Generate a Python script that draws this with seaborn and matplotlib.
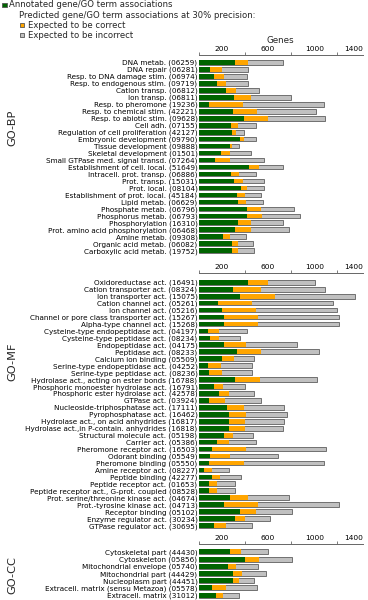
import matplotlib
matplotlib.use('Agg')
import matplotlib.pyplot as plt
import matplotlib.transforms as mtransforms
import seaborn as sns
import pandas as pd
from matplotlib.patches import Rectangle

# ---------------- data ----------------
bp_terms = ["DNA metab.", "DNA repair", "Resp. to DNA damage stim.", "Resp. to endogenous stim.",
            "Cation transp.", "Ion transp.", "Resp. to pheromone", "Resp. to chemical stim.",
            "Resp. to abiotic stim.", "Cell adh.", "Regulation of cell proliferation",
            "Embryonic development", "Tissue development", "Skeletal development",
            "Small GTPase med. signal transd.", "Establishment of cell. local.",
            "Intracell. prot. transp.", "Prot. transp.", "Prot. local.",
            "Establishment of prot. local.", "Lipid metab.", "Phosphate metab.",
            "Phosphorus metab.", "Phosphorylation", "Prot. amino acid phosphorylation",
            "Amine metab.", "Organic acid metab.", "Carboxylic acid metab."]
bp_ids = ["06259", "06281", "06974", "09719", "06812", "06811", "19236", "42221", "09628",
          "07155", "42127", "09790", "09888", "01501", "07264", "51649", "06886", "15031",
          "08104", "45184", "06629", "06796", "06793", "16310", "06468", "09308", "06082", "19752"]
bp_annot = [310, 100, 135, 158, 235, 307, 86, 292, 393, 281, 290, 358, 267, 195, 143, 436,
            281, 307, 367, 330, 341, 416, 416, 341, 312, 212, 287, 287]
bp_correct = [120, 100, 80, 77, 86, 143, 295, 215, 209, 57, 29, 37, 17, 77, 123, 83,
              63, 72, 54, 66, 66, 120, 135, 115, 138, 57, 49, 49]
bp_incorrect = [295, 229, 200, 195, 204, 344, 702, 510, 493, 155, 69, 97, 60, 178, 301, 206,
                149, 189, 146, 146, 152, 290, 324, 270, 333, 138, 129, 138]

mf_terms = ["Oxidoreductase act.", "Cation transporter act.", "Ion transporter act.",
            "Cation channel act.", "Ion channel act.", "Channel or pore class transporter act.",
            "Alpha-type channel act.", "Cysteine-type endopeptidase act.",
            "Cysteine-type peptidase act.", "Endopeptidase act.", "Peptidase act.",
            "Calcium ion binding", "Serine-type endopeptidase act.", "Serine-type peptidase act.",
            "Hydrolase act., acting on ester bonds", "Phosphoric monoester hydrolase act.",
            "Phosphoric ester hydrolase act.", "GTPase act.", "Nucleoside-triphosphatase act.",
            "Pyrophosphatase act.", "Hydrolase act., on acid anhydrides",
            "Hydrolase act.,in P-contain. anhydrides", "Structural molecule act.", "Carrier act.",
            "Pheromone receptor act.", "Odorant binding", "Pheromone binding",
            "Amine receptor act.", "Peptide binding", "Peptide receptor act.",
            "Peptide receptor act., G-prot. coupled", "Prot. serine/threonine kinase act.",
            "Prot.-tyrosine kinase act.", "Receptor binding", "Enzyme regulator act.",
            "GTPase regulator act."]
mf_ids = ["16491", "08324", "15075", "05261", "05216", "15267", "15268", "04197", "08234",
          "04175", "08233", "05509", "04252", "08236", "16788", "16791", "42578", "03924",
          "17111", "16462", "16817", "16818", "05198", "05386", "16503", "05549", "05550",
          "08227", "42277", "01653", "08528", "04674", "04713", "05102", "30234", "30695"]
mf_annot = [430, 292, 358, 166, 201, 215, 215, 77, 95, 221, 330, 198, 80, 89, 312, 135, 172,
            92, 241, 258, 261, 261, 221, 158, 112, 95, 89, 49, 112, 89, 89, 267, 215, 358, 310, 135]
mf_correct = [172, 244, 301, 292, 295, 295, 295, 95, 77, 186, 206, 103, 112, 112, 215, 75, 89,
              132, 149, 149, 138, 138, 72, 100, 295, 175, 298, 66, 75, 66, 69, 158, 295, 135, 89, 100]
mf_incorrect = [407, 559, 694, 702, 702, 708, 708, 244, 181, 447, 502, 181, 267, 258, 499, 186,
                221, 312, 350, 353, 335, 327, 172, 235, 697, 419, 697, 146, 175, 158, 155, 358,
                702, 318, 218, 224]

cc_terms = ["Cytoskeletal part", "Cytoskeleton", "Mitochondrial envelope", "Mitochondrial part",
            "Nucleoplasm part", "Extracell. matrix (sensu Metazoa)", "Extracell. matrix"]
cc_ids = ["44430", "05856", "05740", "44429", "44451", "05578", "31012"]
cc_annot = [272, 401, 249, 292, 295, 115, 146]
cc_correct = [97, 118, 77, 86, 57, 118, 60]
cc_incorrect = [232, 292, 189, 201, 129, 269, 140]

tick_labels = [200, 600, 1000, 1400]
tick_marks = [0, 400, 800, 1200]

# ---------------- style ----------------
sns.set_theme(style='white')
plt.rcParams['font.family'] = ['DejaVu Sans']

GREEN = '#006400'
ORANGE = '#FFA500'
GRAY = '#C0C0C0'
EDGE = '#707070'
AXC = '#666666'

W, H = 368, 600
fig = plt.figure(figsize=(W / 100, H / 100), dpi=100)

LEFT = 198.8 / W
WIDTH = 163.9 / W


def panel(top_px, pitch, gap, terms, ids, annot, corr, incorr, genes=False):
    n = len(terms)
    rows = n - 0.5 + gap
    h_px = rows * pitch
    ax = fig.add_axes([LEFT, 1 - (top_px + h_px) / H, WIDTH, h_px / H])
    labels = [f"{t} ({i})" for t, i in zip(terms, ids)]
    df = pd.DataFrame({'label': labels, 'annot': annot, 'corr': corr, 'incorr': incorr})
    df['c2'] = df['annot'] + df['corr']
    df['c3'] = df['c2'] + df['incorr']
    kw = dict(data=df, y='label', order=labels, saturation=1, width=0.68, ax=ax,
              errorbar=None, orient='h')
    sns.barplot(x='c3', color=GRAY, edgecolor=EDGE, linewidth=0.7, **kw)
    sns.barplot(x='c2', color=ORANGE, linewidth=0, **kw)
    sns.barplot(x='annot', color=GREEN, linewidth=0, **kw)
    ax.set_xlim(0, 1419)
    ax.set_ylim(n - 0.5, -gap)
    for s in ['left', 'right', 'bottom']:
        ax.spines[s].set_visible(False)
    ax.spines['top'].set_visible(True)
    ax.spines['top'].set_color(AXC)
    ax.spines['top'].set_linewidth(0.7)
    ax.xaxis.set_ticks_position('top')
    ax.set_xticks(tick_labels)
    ax.set_xticklabels([str(v) for v in tick_labels])
    ax.set_xticks(tick_marks, minor=True)
    ax.tick_params(axis='x', which='major', length=0, pad=2.5, labelsize=5.4,
                   top=True, bottom=False, labeltop=True, labelbottom=False, colors='black')
    ax.tick_params(axis='x', which='minor', length=2.3, width=0.6, top=True, bottom=False,
                   direction='out', color=AXC)
    ax.tick_params(axis='y', length=0, pad=1, labelsize=5.25, colors='black')
    # last tick label (1400) sits flush with the end of the axis line
    last = ax.get_xticklabels()[-1]
    last.set_horizontalalignment('right')
    last.set_transform(last.get_transform() +
                       mtransforms.ScaledTranslation(2.5 / 100, 0, fig.dpi_scale_trans))
    ax.set_ylabel('')
    if genes:
        ax.xaxis.set_label_position('top')
        ax.set_xlabel('Genes', fontsize=6.3, labelpad=1.5)
    else:
        ax.set_xlabel('')
    ax.grid(False)
    return ax


panel(55.0, 6.98, 1.05, bp_terms, bp_ids, bp_annot, bp_correct, bp_incorrect, genes=True)
panel(273.3, 6.95, 1.29, mf_terms, mf_ids, mf_annot, mf_correct, mf_incorrect)
panel(544.0, 7.2, 1.1, cc_terms, cc_ids, cc_annot, cc_correct, cc_incorrect)

# panel titles
for txt, ypx in [('GO-BP', 128), ('GO-MF', 362), ('GO-CC', 575)]:
    fig.text(12 / W, 1 - ypx / H, txt, rotation=90, ha='center', va='center', fontsize=8.2)

# legend
def sq(xpx, ypx, color):
    fig.patches.append(Rectangle((xpx / W, 1 - (ypx + 4.2) / H), 4.5 / W, 4.2 / H,
                                 transform=fig.transFigure, facecolor=color,
                                 edgecolor='#555555', linewidth=0.6))

sq(2, 2.7, GREEN)
fig.text(9.3 / W, 1 - 4.8 / H, 'Annotated gene/GO term associations', fontsize=6.1, va='center')
fig.text(19 / W, 1 - 15 / H, 'Predicted gene/GO term associations at 30% precision:',
         fontsize=6.1, va='center')
sq(19.5, 23, ORANGE)
fig.text(28 / W, 1 - 25 / H, 'Expected to be correct', fontsize=6.1, va='center')
sq(19.5, 33, GRAY)
fig.text(28 / W, 1 - 35 / H, 'Expected to be incorrect', fontsize=6.1, va='center')

fig.savefig('out.png', dpi=100)
